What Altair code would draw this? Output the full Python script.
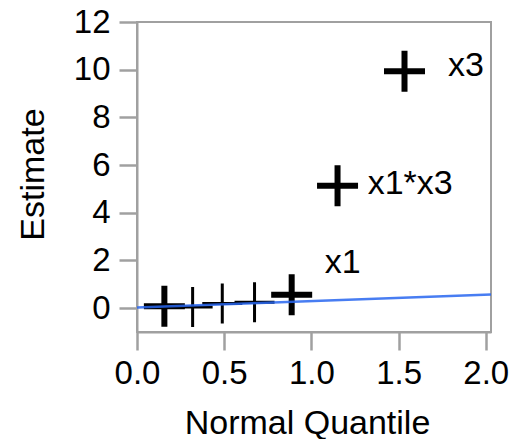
import altair as alt
import pandas as pd

# Half-normal plot of effect estimates
quantiles = [0.157, 0.319, 0.489, 0.674, 0.887, 1.150, 1.534]
estimates = [0.08, 0.05, 0.20, 0.25, 0.56, 5.13, 9.93]
effect_labels = ["", "", "", "", "x1", "x1*x3", "x3"]
label_x = [None, None, None, None, 1.076, 1.323, 1.783]
label_y = [None, None, None, None, 1.46, 4.78, 9.72]

line_x = [0.0, 2.03]
line_y = [0.03, 0.57]

x_ticks = [0.0, 0.5, 1.0, 1.5, 2.0]
y_ticks = [0, 2, 4, 6, 8, 10, 12]

thin_points = [1, 2, 3]  # indices drawn with thin strokes

pts = pd.DataFrame({"q": quantiles, "est": estimates, "idx": list(range(len(quantiles)))})
labs = pd.DataFrame({"lx": label_x, "ly": label_y, "txt": effect_labels}).dropna()
line_df = pd.DataFrame({"q": line_x, "est": line_y})

FONT = "Liberation Sans"
GRAY = "#a0a0a0"
PLUS = "M-1,0L1,0M0,-1L0,1"

xs = alt.Scale(domain=[0, 2.03], nice=False, zero=False)
ys = alt.Scale(domain=[-1, 12], nice=False, zero=False)

x_axis = alt.Axis(
    values=x_ticks, format=".1f", title="Normal Quantile", grid=False,
    domainColor=GRAY, domainWidth=2, tickColor=GRAY, tickWidth=2.5, tickSize=18,
    labelFont=FONT, labelFontSize=33, labelColor="black", labelPadding=7,
    titleFont=FONT, titleFontSize=34, titleFontWeight="normal", titleColor="black",
    titleX=170, titleY=101, titleBaseline="alphabetic", titleAlign="center",
    labelFlush=False,
)
y_axis = alt.Axis(
    values=y_ticks, title="Estimate", grid=False,
    domainColor=GRAY, domainWidth=2, tickColor=GRAY, tickWidth=2.5, tickSize=18,
    labelFont=FONT, labelFontSize=33, labelColor="black", labelPadding=9,
    titleFont=FONT, titleFontSize=34, titleFontWeight="normal", titleColor="black",
    titleX=-94, titleY=152, titleBaseline="alphabetic", titleAlign="center", titleAngle=-90,
    labelFlush=False,
)

base_x = alt.X("q:Q", scale=xs, axis=x_axis)
base_y = alt.Y("est:Q", scale=ys, axis=y_axis)

thick = alt.Chart(pts).transform_filter(
    ~alt.FieldOneOfPredicate(field="idx", oneOf=thin_points)
).mark_point(shape=PLUS, filled=False, color="black", strokeWidth=6, size=1681, opacity=1).encode(
    x=base_x, y=base_y
)
thin = alt.Chart(pts).transform_filter(
    alt.FieldOneOfPredicate(field="idx", oneOf=thin_points)
).mark_point(shape=PLUS, filled=False, color="black", strokeWidth=3, size=1600, opacity=1).encode(
    x=alt.X("q:Q", scale=xs), y=alt.Y("est:Q", scale=ys)
)
line = alt.Chart(line_df).mark_line(color="#2866f0", strokeWidth=2.5, opacity=0.85, clip=True).encode(
    x=alt.X("q:Q", scale=xs), y=alt.Y("est:Q", scale=ys)
)
text = alt.Chart(labs).mark_text(
    align="left", baseline="alphabetic", font=FONT, fontSize=34, color="black"
).encode(
    x=alt.X("lx:Q", scale=xs), y=alt.Y("ly:Q", scale=ys), text="txt:N"
)

chart = alt.layer(thick, thin, line, text).properties(
    width=354, height=310,
    autosize=alt.AutoSizeParams(type="none"),
    padding={"left": 137, "top": 22, "right": 19, "bottom": 107},
).configure_view(stroke=GRAY, strokeWidth=2)

chart.save("out.html", embed_options={"renderer": "svg", "actions": False})
